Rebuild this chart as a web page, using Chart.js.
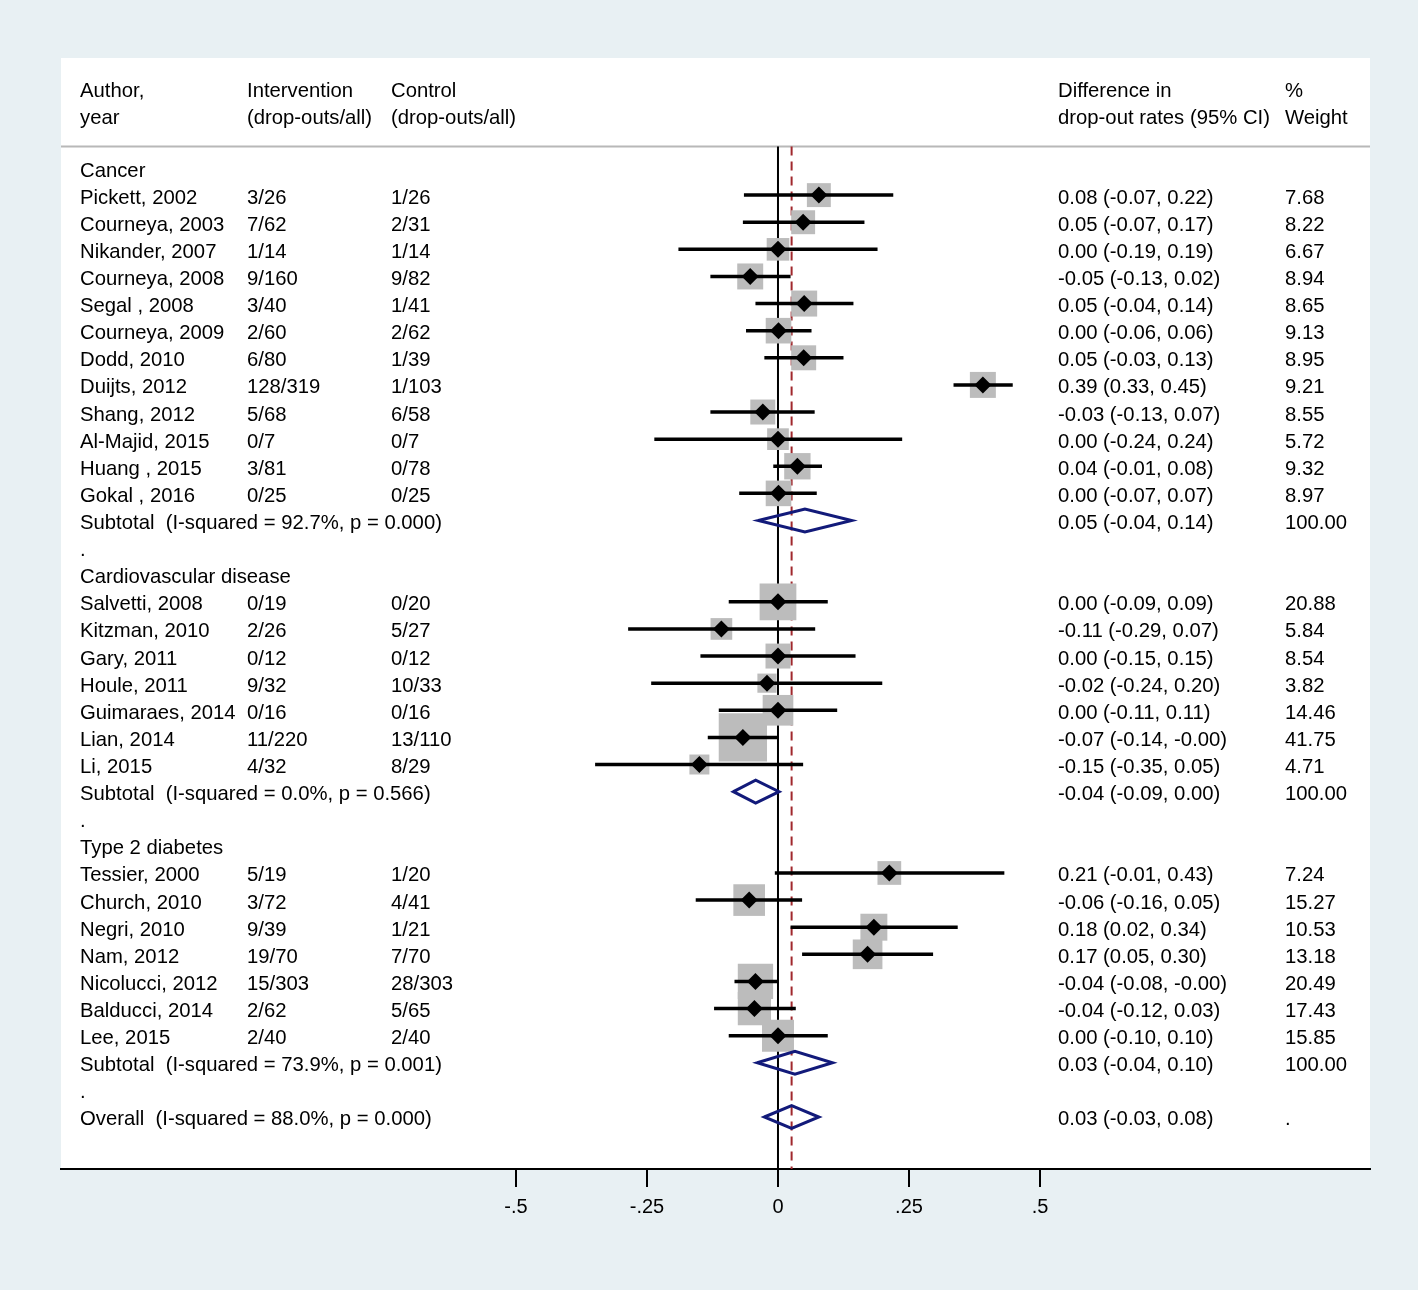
<!DOCTYPE html>
<html>
<head>
<meta charset="utf-8">
<title>Forest plot - drop-out rates</title>
<script src="https://cdn.jsdelivr.net/npm/chart.js@4.4.1/dist/chart.umd.min.js"></script>
<style>
  html, body { margin: 0; padding: 0; background: #e8f0f3; }
  #wrap { width: 1418px; height: 1290px; position: relative; }
</style>
</head>
<body>
<div id="wrap"><canvas id="forest"></canvas></div>
<script>
// ---- values ----
const groupNames = ['Cancer', 'Cardiovascular disease', 'Type 2 diabetes'];
const groupSizes = [12, 7, 7];

const studyNames = [
  'Pickett, 2002', 'Courneya, 2003', 'Nikander, 2007', 'Courneya, 2008', 'Segal , 2008', 'Courneya, 2009',
  'Dodd, 2010', 'Duijts, 2012', 'Shang, 2012', 'Al-Majid, 2015', 'Huang , 2015', 'Gokal , 2016',
  'Salvetti, 2008', 'Kitzman, 2010', 'Gary, 2011', 'Houle, 2011', 'Guimaraes, 2014', 'Lian, 2014', 'Li, 2015',
  'Tessier, 2000', 'Church, 2010', 'Negri, 2010', 'Nam, 2012', 'Nicolucci, 2012', 'Balducci, 2014', 'Lee, 2015'
];
const interventionCounts = [
  '3/26', '7/62', '1/14', '9/160', '3/40', '2/60', '6/80', '128/319', '5/68', '0/7', '3/81', '0/25',
  '0/19', '2/26', '0/12', '9/32', '0/16', '11/220', '4/32',
  '5/19', '3/72', '9/39', '19/70', '15/303', '2/62', '2/40'
];
const controlCounts = [
  '1/26', '2/31', '1/14', '9/82', '1/41', '2/62', '1/39', '1/103', '6/58', '0/7', '0/78', '0/25',
  '0/20', '5/27', '0/12', '10/33', '0/16', '13/110', '8/29',
  '1/20', '4/41', '1/21', '7/70', '28/303', '5/65', '2/40'
];
const effects = [
  0.078, 0.048, 0.000, -0.053, 0.050, 0.001, 0.049, 0.391, -0.029, 0.000, 0.037, 0.001,
  0.000, -0.108, 0.000, -0.021, 0.000, -0.067, -0.150,
  0.2125, -0.055, 0.183, 0.171, -0.043, -0.045, 0.000
];
const ciLower = [
  -0.065, -0.067, -0.190, -0.129, -0.043, -0.061, -0.026, 0.335, -0.129, -0.236, -0.009, -0.074,
  -0.094, -0.286, -0.148, -0.242, -0.113, -0.134, -0.349,
  -0.006, -0.157, 0.024, 0.046, -0.083, -0.122, -0.094
];
const ciUpper = [
  0.220, 0.165, 0.190, 0.024, 0.144, 0.064, 0.125, 0.448, 0.070, 0.237, 0.084, 0.074,
  0.095, 0.071, 0.148, 0.199, 0.113, 0.000, 0.048,
  0.432, 0.046, 0.343, 0.296, -0.001, 0.034, 0.095
];
const effectLabels = [
  '0.08 (-0.07, 0.22)', '0.05 (-0.07, 0.17)', '0.00 (-0.19, 0.19)', '-0.05 (-0.13, 0.02)',
  '0.05 (-0.04, 0.14)', '0.00 (-0.06, 0.06)', '0.05 (-0.03, 0.13)', '0.39 (0.33, 0.45)',
  '-0.03 (-0.13, 0.07)', '0.00 (-0.24, 0.24)', '0.04 (-0.01, 0.08)', '0.00 (-0.07, 0.07)',
  '0.00 (-0.09, 0.09)', '-0.11 (-0.29, 0.07)', '0.00 (-0.15, 0.15)', '-0.02 (-0.24, 0.20)',
  '0.00 (-0.11, 0.11)', '-0.07 (-0.14, -0.00)', '-0.15 (-0.35, 0.05)',
  '0.21 (-0.01, 0.43)', '-0.06 (-0.16, 0.05)', '0.18 (0.02, 0.34)', '0.17 (0.05, 0.30)',
  '-0.04 (-0.08, -0.00)', '-0.04 (-0.12, 0.03)', '0.00 (-0.10, 0.10)'
];
const weightLabels = [
  '7.68', '8.22', '6.67', '8.94', '8.65', '9.13', '8.95', '9.21', '8.55', '5.72', '9.32', '8.97',
  '20.88', '5.84', '8.54', '3.82', '14.46', '41.75', '4.71',
  '7.24', '15.27', '10.53', '13.18', '20.49', '17.43', '15.85'
];
// overall weight (%) of each study, shown by the area of its grey box
const boxWeights = [
  2.8, 2.8, 2.5, 3.3, 3.3, 3.2, 3.05, 3.3, 3.05, 2.3, 3.4, 3.2,
  6.6, 2.3, 3.05, 1.8, 4.6, 11.4, 1.95,
  2.75, 4.9, 3.55, 4.3, 6.1, 5.4, 5.0
];

const subtotalLabels = [
  'Subtotal  (I-squared = 92.7%, p = 0.000)',
  'Subtotal  (I-squared = 0.0%, p = 0.566)',
  'Subtotal  (I-squared = 73.9%, p = 0.001)'
];
const subtotalEffects = [0.0515, -0.0426, 0.0324];
const subtotalLower = [-0.0375, -0.085, -0.0395];
const subtotalUpper = [0.1406, 0.002, 0.104];
const subtotalEffectLabels = ['0.05 (-0.04, 0.14)', '-0.04 (-0.09, 0.00)', '0.03 (-0.04, 0.10)'];

const overallLabel = 'Overall  (I-squared = 88.0%, p = 0.000)';
const overallEffect = 0.026;
const overallLower = -0.026;
const overallUpper = 0.078;
const overallEffectLabel = '0.03 (-0.03, 0.08)';

const headerLines = [
  ['Author,', 'year'],
  ['Intervention', '(drop-outs/all)'],
  ['Control', '(drop-outs/all)'],
  ['Difference in', 'drop-out rates (95% CI)'],
  ['%', 'Weight']
];
const xTickValues = [-0.5, -0.25, 0, 0.25, 0.5];
const xTickLabels = ['-.5', '-.25', '0', '.25', '.5'];

// ---- layout ----
const FONT = '"Liberation Sans", Arial, Helvetica, sans-serif';
const columnOffsets = [19, 186, 330, 997, 1224]; // text columns, px from panel left
const headerRows = [-2.95, -1.95];
const ruleRow = -0.79;
const Y_MIN = -4.057, Y_MAX = 36.918;
const diamondHalf = 0.42; // half height of pooled diamonds, in rows

// build the table rows
const rows = [];
const studyRow = [];
const subtotalRow = [];
let r = 0, s = 0;
groupNames.forEach((g, gi) => {
  rows.push({ row: r++, cells: [g] });
  for (let k = 0; k < groupSizes[gi]; k++, s++) {
    studyRow[s] = r;
    rows.push({ row: r++, cells: [studyNames[s], interventionCounts[s], controlCounts[s], effectLabels[s], weightLabels[s]] });
  }
  subtotalRow[gi] = r;
  rows.push({ row: r++, cells: [subtotalLabels[gi], '', '', subtotalEffectLabels[gi], '100.00'] });
  rows.push({ row: r++, cells: ['.'] });
});
const overallRow = r;
rows.push({ row: overallRow, cells: [overallLabel, '', '', overallEffectLabel, '.'] });

// datasets
const boxPoints = effects.map((e, i) => ({ x: e, y: studyRow[i] }));
const ciPoints = [];
effects.forEach((e, i) => {
  ciPoints.push({ x: ciLower[i], y: studyRow[i] }, { x: ciUpper[i], y: studyRow[i] }, { x: null, y: null });
});
function diamond(est, lo, hi, row) {
  return [
    { x: lo, y: row }, { x: est, y: row - diamondHalf }, { x: hi, y: row },
    { x: est, y: row + diamondHalf }, { x: lo, y: row }, { x: est, y: row - diamondHalf },
    { x: null, y: null }
  ];
}
let pooledPoints = [];
subtotalEffects.forEach((e, gi) => {
  pooledPoints = pooledPoints.concat(diamond(e, subtotalLower[gi], subtotalUpper[gi], subtotalRow[gi]));
});
pooledPoints = pooledPoints.concat(diamond(overallEffect, overallLower, overallUpper, overallRow));

const panelPlugin = {
  id: 'panel',
  beforeDraw(chart) {
    const { ctx, chartArea: a, scales } = chart;
    ctx.save();
    ctx.fillStyle = '#ffffff';
    ctx.fillRect(a.left, a.top, a.right - a.left, a.bottom - a.top);
    const yr = scales.y.getPixelForValue(ruleRow);
    ctx.strokeStyle = '#b8b8b8';
    ctx.lineWidth = 2;
    ctx.beginPath();
    ctx.moveTo(a.left, yr);
    ctx.lineTo(a.right, yr);
    ctx.stroke();
    ctx.restore();
  },
  afterDraw(chart) {
    const { ctx, chartArea: a, scales } = chart;
    ctx.save();
    ctx.font = '20.3px ' + FONT;
    ctx.fillStyle = '#000';
    ctx.textAlign = 'left';
    ctx.textBaseline = 'alphabetic';
    headerLines.forEach((lines, c) => {
      lines.forEach((t, li) => {
        ctx.fillText(t, a.left + columnOffsets[c], scales.y.getPixelForValue(headerRows[li]) + 8.5);
      });
    });
    rows.forEach(rw => {
      const py = scales.y.getPixelForValue(rw.row) + 8.5;
      rw.cells.forEach((t, c) => {
        if (t) ctx.fillText(t, a.left + columnOffsets[c], py);
      });
    });
    ctx.restore();
  }
};

Chart.defaults.font.family = FONT;

new Chart(document.getElementById('forest'), {
  type: 'scatter',
  data: {
    datasets: [
      {
        type: 'line',
        data: [{ x: 0, y: ruleRow }, { x: 0, y: Y_MAX }],
        borderColor: '#000',
        borderWidth: 2,
        pointRadius: 0,
        order: 6
      },
      {
        type: 'line',
        data: [{ x: overallEffect, y: ruleRow }, { x: overallEffect, y: Y_MAX }],
        borderColor: '#a0282d',
        borderWidth: 2,
        borderDash: [9, 6],
        pointRadius: 0,
        order: 5
      },
      {
        data: boxPoints,
        pointStyle: 'rect',
        pointRadius: ctx => 14.3 * Math.sqrt(boxWeights[ctx.dataIndex]) / Math.SQRT2,
        backgroundColor: '#bcbcbc',
        borderWidth: 0,
        order: 4
      },
      {
        type: 'line',
        data: ciPoints,
        borderColor: '#000',
        borderWidth: 3.5,
        pointRadius: 0,
        spanGaps: false,
        order: 3
      },
      {
        type: 'line',
        data: pooledPoints,
        borderColor: '#121a7a',
        borderWidth: 3,
        pointRadius: 0,
        spanGaps: false,
        order: 2
      },
      {
        data: boxPoints,
        pointStyle: 'rectRot',
        pointRadius: 8.5,
        backgroundColor: '#000',
        borderWidth: 0,
        order: 1
      }
    ]
  },
  options: {
    responsive: true,
    maintainAspectRatio: false,
    animation: false,
    events: [],
    layout: { padding: { left: 61, right: 48, top: 58, bottom: 0 } },
    plugins: {
      legend: { display: false },
      tooltip: { enabled: false }
    },
    scales: {
      x: {
        type: 'linear',
        position: 'bottom',
        min: -1.3683,
        max: 1.1298,
        afterBuildTicks: axis => { axis.ticks = xTickValues.map(v => ({ value: v })); },
        afterFit: axis => { axis.height = 121; },
        ticks: {
          autoSkip: false,
          maxRotation: 0,
          color: '#000',
          font: { size: 20 },
          padding: 8,
          callback: value => xTickLabels[xTickValues.indexOf(value)]
        },
        grid: { drawOnChartArea: false, color: '#000', lineWidth: 2, tickLength: 18 },
        border: { display: true, color: '#000', width: 2 }
      },
      y: {
        type: 'linear',
        display: false,
        reverse: true,
        min: Y_MIN,
        max: Y_MAX
      }
    }
  },
  plugins: [panelPlugin]
});
</script>
</body>
</html>
